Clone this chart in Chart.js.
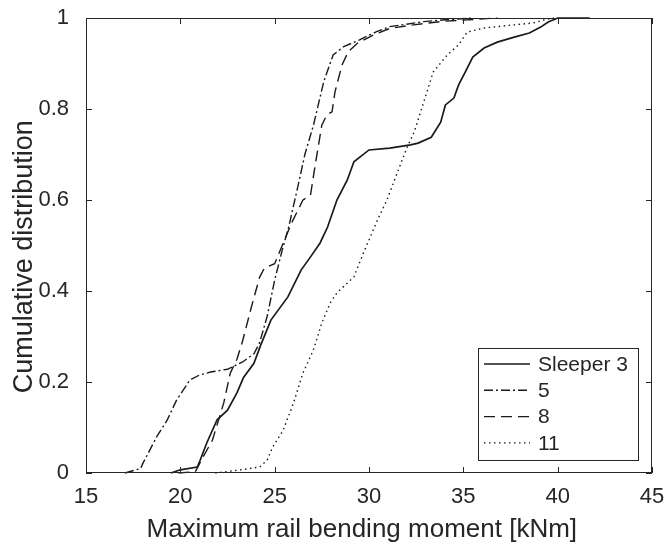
<!DOCTYPE html>
<html><head><meta charset="utf-8">
<script src="https://cdn.jsdelivr.net/npm/chart.js@4/dist/chart.umd.min.js"></script>
<style>html,body{margin:0;padding:0;background:#fff}#wrap{width:666px;height:543px}</style>
</head><body><div id="wrap"><canvas id="c" width="666" height="543"></canvas></div>
<script>
// ---- data ----
const seriesNames = ['Sleeper 3', '5', '8', '11'];

const s3X = [19.5, 20.0, 20.9, 21.05, 21.4, 21.95, 22.5, 23.0, 23.35, 23.9, 24.25, 24.8, 25.7, 26.4, 26.9, 27.4, 27.8, 28.3, 28.85, 29.2, 30.0, 31.1, 32.2, 32.6, 33.3, 33.8, 34.05, 34.5, 34.75, 35.1, 35.5, 36.1, 36.8, 37.7, 38.5, 39.1, 39.5, 40.0, 41.7];
const s3Y = [0, 0.007, 0.013, 0.028, 0.066, 0.117, 0.138, 0.176, 0.21, 0.241, 0.28, 0.336, 0.387, 0.446, 0.475, 0.505, 0.54, 0.6, 0.644, 0.684, 0.71, 0.714, 0.721, 0.725, 0.738, 0.771, 0.809, 0.824, 0.853, 0.881, 0.914, 0.934, 0.947, 0.958, 0.967, 0.98, 0.991, 1, 1];

const s5X = [17.07, 17.9, 18.0, 18.75, 19.3, 19.8, 20.5, 21.0, 21.6, 22.5, 23.3, 23.9, 24.2, 24.6, 25.0, 25.4, 25.74, 26.27, 26.6, 27.06, 27.6, 28.1, 28.66, 29.5, 30.4, 31.1, 32.9, 34.0, 35.5];
const s5Y = [0, 0.01, 0.02, 0.08, 0.116, 0.16, 0.204, 0.215, 0.222, 0.228, 0.244, 0.262, 0.286, 0.344, 0.424, 0.49, 0.54, 0.637, 0.7, 0.765, 0.86, 0.919, 0.937, 0.952, 0.97, 0.981, 0.992, 0.996, 1];

const s8X = [19.9, 20.8, 21.2, 21.7, 22.3, 22.65, 23.0, 23.3, 23.8, 24.2, 24.45, 25.0, 25.3, 25.9, 26.5, 26.9, 27.15, 27.5, 27.77, 28.04, 28.2, 28.57, 28.9, 29.37, 30.25, 31.1, 32.36, 34.0, 36.8];
const s8Y = [0, 0.003, 0.035, 0.072, 0.154, 0.22, 0.25, 0.29, 0.37, 0.43, 0.45, 0.46, 0.49, 0.55, 0.6, 0.611, 0.677, 0.765, 0.787, 0.794, 0.838, 0.897, 0.926, 0.944, 0.963, 0.977, 0.985, 0.993, 1];

const s11X = [21.85, 23.2, 24.2, 24.6, 24.9, 25.45, 26.0, 26.5, 27.05, 27.5, 27.95, 28.3, 29.2, 29.7, 30.45, 30.95, 31.5, 32.0, 32.4, 32.9, 33.4, 34.15, 34.75, 35.2, 36.1, 37.7, 38.7, 39.3, 39.8];
const s11Y = [0, 0.007, 0.013, 0.028, 0.057, 0.094, 0.154, 0.22, 0.27, 0.33, 0.374, 0.396, 0.431, 0.483, 0.556, 0.6, 0.66, 0.714, 0.75, 0.815, 0.881, 0.919, 0.941, 0.969, 0.978, 0.985, 0.989, 0.996, 1];

const xTicks = [15, 20, 25, 30, 35, 40, 45];
const yTicks = [0, 0.2, 0.4, 0.6, 0.8, 1];
const yTickLabels = ['0', '0.2', '0.4', '0.6', '0.8', '1'];
const xTitle = 'Maximum rail bending moment [kNm]';
const yTitle = 'Cumulative distribution';

// ---- build ----
const pts = (xs, ys) => xs.map((v, i) => ({x: v, y: ys[i]}));
const lineCol = '#1a1a1a';
const dashes = [[], [9, 3, 2, 3], [11, 6], [1.5, 3.5]];
const widths = [1.7, 1.4, 1.4, 1.4];
const seriesData = [pts(s3X, s3Y), pts(s5X, s5Y), pts(s8X, s8Y), pts(s11X, s11Y)];

const datasets = seriesNames.map((n, i) => ({
  label: n,
  data: seriesData[i],
  borderColor: lineCol,
  borderWidth: widths[i],
  borderDash: dashes[i],
  pointRadius: 0,
  tension: 0,
  fill: false,
  clip: false
}));

const FONT = '"Liberation Sans", Arial, Helvetica, sans-serif';
const TXT = '#262626';
const NB = '\u00A0';

const framePlugin = {
  id: 'frame',
  afterDatasetsDraw(chart) {
    const {ctx, chartArea: a, scales: {x, y}} = chart;
    ctx.save();
    ctx.strokeStyle = TXT;
    ctx.lineWidth = 1;
    ctx.setLineDash([]);
    ctx.strokeRect(a.left + 0.5, a.top + 0.5, a.right - a.left - 1, a.bottom - a.top - 1);
    const tl = 6;
    ctx.beginPath();
    xTicks.forEach(v => {
      const px = Math.round(x.getPixelForValue(v)) + 0.5;
      ctx.moveTo(px, a.bottom); ctx.lineTo(px, a.bottom - tl);
      ctx.moveTo(px, a.top); ctx.lineTo(px, a.top + tl);
    });
    yTicks.forEach(v => {
      const py = Math.round(y.getPixelForValue(v)) + 0.5;
      ctx.moveTo(a.left, py); ctx.lineTo(a.left + tl, py);
      ctx.moveTo(a.right, py); ctx.lineTo(a.right - tl, py);
    });
    ctx.stroke();

    // legend
    const bw = 160, bh = 112;
    const bx = a.right - 14 - bw, by = a.bottom - 13 - bh;
    ctx.fillStyle = '#fff';
    ctx.fillRect(bx, by, bw, bh);
    ctx.strokeRect(bx + 0.5, by + 0.5, bw, bh);
    ctx.font = '21px ' + FONT;
    ctx.textBaseline = 'middle';
    ctx.textAlign = 'left';
    chart.data.datasets.forEach((ds, i) => {
      const cy = by + 16 + i * 26.3;
      ctx.beginPath();
      ctx.strokeStyle = lineCol;
      ctx.lineWidth = ds.borderWidth;
      ctx.setLineDash(ds.borderDash);
      ctx.moveTo(bx + 6, cy); ctx.lineTo(bx + 52, cy);
      ctx.stroke();
      ctx.setLineDash([]);
      ctx.fillStyle = TXT;
      ctx.fillText(ds.label, bx + 60, cy + 1);
    });
    ctx.restore();
  }
};

new Chart(document.getElementById('c'), {
  type: 'line',
  data: {datasets},
  options: {
    responsive: false,
    devicePixelRatio: 1,
    animation: false,
    layout: {padding: {left: 0, right: 14, top: 18, bottom: 0}},
    plugins: {legend: {display: false}, tooltip: {enabled: false}},
    scales: {
      x: {
        type: 'linear', min: 15, max: 45,
        afterBuildTicks: s => { s.ticks = xTicks.map(v => ({value: v})); },
        afterFit: s => { s.height = 70; s.paddingLeft = 0; s.paddingRight = 0; },
        grid: {display: false, drawTicks: false},
        border: {display: false},
        ticks: {color: TXT, font: {family: FONT, size: 22}, padding: 11, maxRotation: 0, autoSkip: false,
                callback: v => String(v)},
        title: {display: true, text: xTitle + NB + NB, color: TXT, font: {family: FONT, size: 26, lineHeight: 1}, padding: {top: 0, bottom: 0}}
      },
      y: {
        type: 'linear', min: 0, max: 1,
        afterBuildTicks: s => { s.ticks = yTicks.map(v => ({value: v})); },
        afterFit: s => { s.width = 86; s.paddingTop = 0; s.paddingBottom = 0; },
        grid: {display: false, drawTicks: false},
        border: {display: false},
        ticks: {color: TXT, font: {family: FONT, size: 22}, padding: 17, autoSkip: false,
                callback: (v, i) => yTickLabels[i]},
        title: {display: true, text: yTitle + NB + NB + NB, color: TXT, font: {family: FONT, size: 27, lineHeight: 1}, padding: {top: 11, bottom: 0}}
      }
    }
  },
  plugins: [framePlugin]
});
</script>
</body></html>
